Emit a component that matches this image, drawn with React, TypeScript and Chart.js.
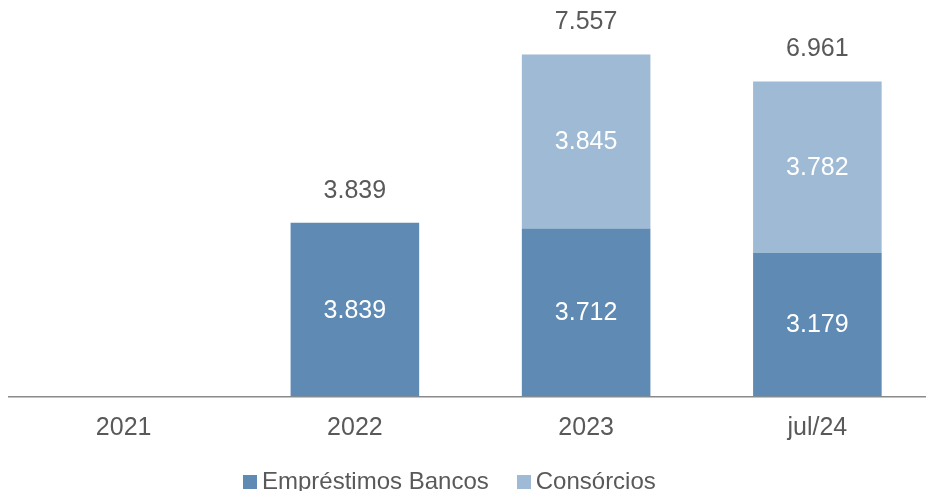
import React, { useEffect, useRef } from "react";
import { Chart, registerables } from "chart.js";

Chart.register(...registerables);

const categories = ["2021", "2022", "2023", "jul/24"];
const emprestimos = [0, 3839, 3712, 3179];
const consorcios = [0, 0, 3845, 3782];
const totals = [0, 3839, 7557, 6961];
const seriesNames = ["Empréstimos Bancos", "Consórcios"];
const seriesColors = ["#5E8AB4", "#9EBAD4"];

const FONT = "'Liberation Sans', Arial, sans-serif";
const TEXT = "#595959";

function fmt(v: number): string {
  const s = Math.round(v).toString();
  return s.replace(/\B(?=(\d{3})+(?!\d))/g, ".");
}

const labelPlugin = {
  id: "stackLabels",
  afterDatasetsDraw(chart: any) {
    const ctx = chart.ctx;
    ctx.save();
    ctx.font = `25px ${FONT}`;
    ctx.textAlign = "center";
    ctx.textBaseline = "middle";
    chart.data.datasets.forEach((ds: any, di: number) => {
      const meta = chart.getDatasetMeta(di);
      meta.data.forEach((bar: any, i: number) => {
        const v = ds.data[i];
        if (!v) return;
        const props = bar.getProps(["x", "y", "base"], true);
        ctx.fillStyle = "#ffffff";
        ctx.fillText(fmt(v), props.x, (props.y + props.base) / 2 + 1);
      });
    });
    const lastMeta = chart.getDatasetMeta(chart.data.datasets.length - 1);
    const yScale = chart.scales.y;
    lastMeta.data.forEach((bar: any, i: number) => {
      const t = totals[i];
      if (!t) return;
      const x = bar.getProps(["x"], true).x;
      const y = yScale.getPixelForValue(t);
      ctx.fillStyle = TEXT;
      ctx.fillText(fmt(t), x, y - 32);
    });
    ctx.restore();
  },
};

export default function App() {
  const ref = useRef<HTMLCanvasElement | null>(null);
  useEffect(() => {
    if (!ref.current) return;
    const chart = new Chart(ref.current, {
      type: "bar",
      data: {
        labels: categories,
        datasets: [
          {
            label: seriesNames[0],
            data: emprestimos,
            backgroundColor: seriesColors[0],
            borderWidth: 0,
          },
          {
            label: seriesNames[1],
            data: consorcios,
            backgroundColor: seriesColors[1],
            borderWidth: 0,
          },
        ],
      },
      options: {
        animation: false,
        responsive: true,
        maintainAspectRatio: false,
        layout: { padding: { top: 26.5, bottom: 30.5, left: 0, right: 0 } },
        plugins: {
          legend: { display: false },
          tooltip: { enabled: false },
        },
        datasets: {
          bar: { categoryPercentage: 1, barPercentage: 0.556 },
        },
        scales: {
          x: {
            stacked: true,
            grid: { display: false, drawTicks: false },
            border: { display: true, color: "#8A8A8A", width: 1.5 },
            ticks: {
              color: TEXT,
              font: { family: FONT, size: 25 },
              padding: 17,
            },
          },
          y: {
            stacked: true,
            display: false,
            min: 0,
            max: 8000,
          },
        },
      },
      plugins: [labelPlugin],
    });
    return () => chart.destroy();
  }, []);

  return (
    <div style={{ position: "fixed", left: 8, top: 8, width: 918, height: 483, overflow: "hidden" }}>
      <div style={{ position: "absolute", left: 0, top: 0, width: 925, height: 483 }}>
        <canvas ref={ref} />
      </div>
      <div
        style={{
          position: "absolute",
          left: 235,
          top: 459,
          display: "flex",
          alignItems: "center",
          fontFamily: FONT,
          fontSize: 24,
          color: TEXT,
          whiteSpace: "nowrap",
          lineHeight: "28px",
        }}
      >
        {seriesNames.map((n, i) => (
          <span key={n} style={{ display: "flex", alignItems: "center", marginRight: i === 0 ? 28 : 0 }}>
            <span
              style={{
                display: "inline-block",
                width: 14,
                height: 14,
                background: seriesColors[i],
                marginRight: 5,
                marginTop: 1,
              }}
            />
            <span>{n}</span>
          </span>
        ))}
      </div>
    </div>
  );
}
